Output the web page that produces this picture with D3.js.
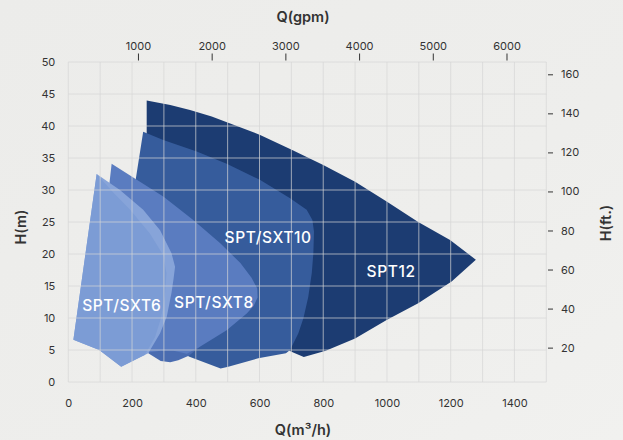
<!DOCTYPE html>
<html><head><meta charset="utf-8">
<script src="https://cdn.jsdelivr.net/npm/d3@7"></script>
<style>
html,body{margin:0;padding:0;background:#efefed;}
svg{display:block;font-family:Inter,"Open Sans",sans-serif;}
</style></head><body>
<svg id="c" width="623" height="440"></svg>
<script>
// ---- data (Q in m³/h, H in m) ----
const qTicks = [0,200,400,600,800,1000,1200,1400];
const hTicks = [0,5,10,15,20,25,30,35,40,45,50];
const gpmTicks = [1000,2000,3000,4000,5000,6000];
const ftTicks = [20,40,60,80,100,120,140,160];

const spt12 = [[246,44.0],[320,43.3],[382,42.5],[450,41.5],[508,40.4],[602,38.6],[701,36.3],[800,33.9],[900,31.3],[999,28.2],[1098,25.0],[1198,22.2],[1279,19.1],[1203,15.7],[1098,12.3],[999,9.7],[900,6.8],[808,4.9],[739,3.9],[702,4.7],[500,10],[246,25]];
const sxt10 = [[235,39.1],[298,37.8],[403,36.0],[497,34.1],[601,31.6],[696,28.7],[748,26.9],[766,25.3],[771,23.5],[769,20.1],[764,17.0],[753,13.3],[738,10.0],[722,7.6],[696,5.0],[683,4.5],[596,3.7],[502,2.4],[478,2.1],[378,4.0],[250,10],[212,31.8]];
const sxt8Band = [[251,4.5],[290,3.3],[320,3.1],[345,3.4],[378,4.1],[413,5.5],[380,6.5],[300,6.5],[251,6.0]];
const sxt8Main = [[136,34.1],[215,31.6],[298,29.0],[392,25.3],[476,21.7],[540,18.6],[575,16.3],[593,14.6],[594,13.2],[582,11.9],[560,10.7],[497,8.1],[413,5.5],[372,4.4],[330,4.9],[290,4.9],[251,4.6],[150,8],[129,31]];
const sxt6Band = [[16,6.6],[89,32.5],[162,30.0],[235,26.9],[288,23.7],[324,20.1],[335,18.0],[330,16.0],[324,14.0],[309,10.2],[288,7.6],[251,4.5],[230,4.0],[166,2.4],[97,5.0]];
const sxt6Main = [[16,6.6],[89,32.5],[141,29.6],[194,26.9],[256,23.2],[298,19.8],[308,17.0],[303,13.5],[291,10.0],[272,7.0],[240,4.2],[230,4.0],[166,2.4],[97,5.0]];

const labels = [
  {name:"SPT/SXT6", q:168, h:11.9},
  {name:"SPT/SXT8", q:457, h:12.4},
  {name:"SPT/SXT10", q:627, h:22.5},
  {name:"SPT12", q:1013, h:17.3}
];

// ---- layout ----
const svg = d3.select("#c");
const L = 68.3, R = 546.3, T = 62, B = 382;
const x = d3.scaleLinear().domain([0,1500]).range([L,R]);
const y = d3.scaleLinear().domain([0,50]).range([B,T]);
const xg = d3.scaleLinear().domain([55,6540]).range([L,R]);
const yf = d3.scaleLinear().domain([2.4,166.3]).range([B,T]);

// subtle background sheen
const defs = svg.append("defs");
const gr = defs.append("linearGradient").attr("id","bg").attr("x1","0").attr("y1","0").attr("x2","1").attr("y2","1");
gr.append("stop").attr("offset","0").attr("stop-color","#ececea");
gr.append("stop").attr("offset","0.6").attr("stop-color","#eeeeec");
gr.append("stop").attr("offset","1").attr("stop-color","#f1f1ef");
svg.append("rect").attr("width",623).attr("height",440).attr("fill","url(#bg)");

const line = d3.line().x(d=>x(d[0])).y(d=>y(d[1])).curve(d3.curveLinearClosed);

const shapes = [
  {d:spt12, c:"#1c3c72"},
  {d:sxt10, c:"#365c9c"},
  {d:sxt8Band, c:"#4a6cb0"},
  {d:sxt8Main, c:"#5a7cc0"},
  {d:sxt6Band, c:"#87a4d9"},
  {d:sxt6Main, c:"#7c9cd5"}
];
svg.append("g").selectAll("path").data(shapes).join("path")
  .attr("d", s=>line(s.d)).attr("fill", s=>s.c);

// grid
const grid = svg.append("g").attr("stroke","#d6d6d6").attr("stroke-opacity",0.7).attr("stroke-width",1);
grid.selectAll("line.v").data(d3.range(0,1501,100)).join("line")
  .attr("x1",d=>x(d)).attr("x2",d=>x(d)).attr("y1",T).attr("y2",B);
grid.selectAll("line.h").data(d3.range(0,51,5)).join("line")
  .attr("y1",d=>y(d)).attr("y2",d=>y(d)).attr("x1",L).attr("x2",R);

// labels in shapes
svg.append("g").selectAll("text").data(labels).join("text")
  .attr("x",d=>x(d.q)).attr("y",d=>y(d.h)).attr("dy","0.35em")
  .attr("text-anchor","middle").attr("fill","#fff")
  .attr("font-size",15.5).attr("font-weight",500).attr("letter-spacing",0.6)
  .text(d=>d.name);

// axes
const txtCol = "#333";
const fmt = d3.format("d");
const axB = svg.append("g").attr("transform",`translate(0,${B})`)
  .call(d3.axisBottom(x).tickValues(qTicks).tickFormat(fmt).tickSize(0).tickPadding(17));
const axL = svg.append("g").attr("transform",`translate(${L},0)`)
  .call(d3.axisLeft(y).tickValues(hTicks).tickFormat(fmt).tickSize(0).tickPadding(13));
const axT = svg.append("g").attr("transform",`translate(0,60.5)`)
  .call(d3.axisTop(xg).tickValues(gpmTicks).tickFormat(fmt).tickSize(7).tickPadding(4));
const axR = svg.append("g").attr("transform",`translate(548,0)`)
  .call(d3.axisRight(yf).tickValues(ftTicks).tickFormat(fmt).tickSize(5).tickPadding(8));
[axB,axL,axT,axR].forEach(a=>{
  a.select(".domain").remove();
  a.selectAll("text").attr("fill",txtCol).attr("font-size",11).attr("font-family","Inter,sans-serif");
  a.selectAll("line").attr("stroke",txtCol);
});

// titles
const title = (t,xx,yy,rot)=>svg.append("text").attr("transform",`translate(${xx},${yy}) rotate(${rot})`)
  .attr("text-anchor","middle").attr("dy","0.35em").attr("fill",txtCol)
  .attr("font-size",14.5).attr("font-weight",600).text(t);
title("Q(gpm)",303,17,0);
title("Q(m³/h)",303,430,0);
title("H(m)",21,227,-90);
title("H(ft.)",606,223,-90);
</script></body></html>
